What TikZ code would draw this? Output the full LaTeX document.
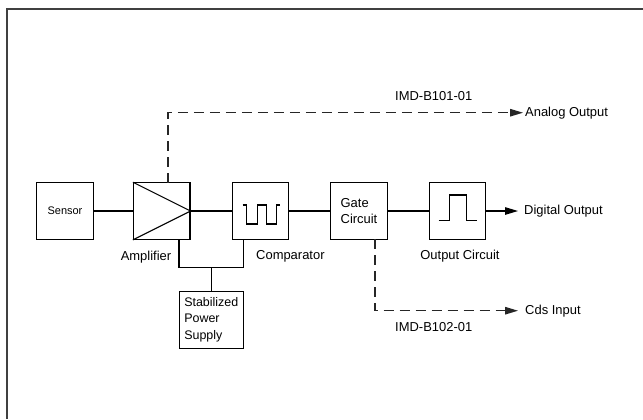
\documentclass[tikz,border=0pt]{standalone}
\usepackage{fontspec}
\setmainfont{Liberation Sans}
\usetikzlibrary{arrows.meta}
\begin{document}
\begin{tikzpicture}[x=1bp,y=-1bp,
  blk/.style={draw=black, line width=1.1bp, minimum width=56.5bp, minimum height=56.5bp, inner sep=0pt, align=left, font=\fontsize{13}{15.5}\selectfont},
  lbl/.style={inner sep=0pt, font=\fontsize{13}{15}\selectfont},
  wire/.style={draw=black, line width=1.1bp},
  dwire/.style={draw=black!85, line width=1.2bp, dash pattern=on 10bp off 6bp},
  tip/.style={-{Triangle[length=13bp,width=7.5bp]}}]
\useasboundingbox (0,0) rectangle (643,419);
\fill[white] (0,0) rectangle (643,419);
% frame
\draw[draw=black!75, line width=1.3bp] (643,9) -- (7,9) -- (7,419);
% blocks
\node[blk, font=\fontsize{11}{13}\selectfont] (sensor) at (65,211) {Sensor};
\node[blk] (amp) at (161.7,211) {};
\node[blk] (comp) at (260.3,211) {};
\node[blk] (gate) at (359,211) {Gate\\Circuit};
\node[blk] (out) at (457.5,211) {};
\node[blk, minimum width=64bp, minimum height=57bp, font=\fontsize{12.5}{16.2}\selectfont] (psu) at (211.3,319.7) {Stabilized\\Power\\Supply};
% amplifier triangle
\draw[wire] (amp.north west) -- (amp.east) -- (amp.south west);
% comparator waveform
\draw[wire] (242.7,205) -- (246.7,205) -- (246.7,224) -- (257.3,224) -- (257.3,205)
  -- (266.7,205) -- (266.7,224) -- (276.7,224) -- (276.7,205) -- (280,205);
% output pulse
\draw[wire] (438.7,220.7) -- (449.3,220.7) -- (449.3,195) -- (466.7,195) -- (466.7,220.7) -- (477.3,220.7);
% signal chain
\draw[wire] (sensor.east) -- (amp.west);
\draw[wire] (amp.east) -- (comp.west);
\draw[wire] (comp.east) -- (gate.west);
\draw[wire] (gate.east) -- (out.west);
\coordinate (dout) at (518,211);
\draw[wire, tip] (out.east) -- (dout);
% power supply wiring
\coordinate (ampb) at (179,239.25);
\coordinate (compb) at (243.3,239.25);
\coordinate (join) at (211.3,267.3);
\draw[wire] (ampb) -- (179,267.3) -- (243.3,267.3) -- (compb);
\draw[wire] (join) -- (psu.north);
% dashed outputs
\coordinate (ampt) at (168,182.75);
\coordinate (aout) at (523,112.7);
\draw[dwire, tip] (ampt) -- (168,112.7) -- (aout);
\coordinate (gateb) at (375,239.25);
\coordinate (cin) at (518,310.7);
\draw[dwire, tip] (gateb) -- (375,310.7) -- (cin);
% labels
\node[lbl] (lamp) at (146,256.7) {Amplifier};
\node[lbl, anchor=west] (lcomp) at (256,256.7) {Comparator};
\node[lbl] (lout) at (460,256.5) {Output Circuit};
\node[lbl, anchor=west] (ldig) at (524,211) {Digital Output};
\node[lbl, anchor=west] (lana) at (525,113) {Analog Output};
\node[lbl, anchor=west] (limd1) at (395,96) {IMD-B101-01};
\node[lbl, anchor=west] (lcds) at (525,311) {Cds Input};
\node[lbl, anchor=west] (limd2) at (395,327) {IMD-B102-01};
\end{tikzpicture}
\end{document}
